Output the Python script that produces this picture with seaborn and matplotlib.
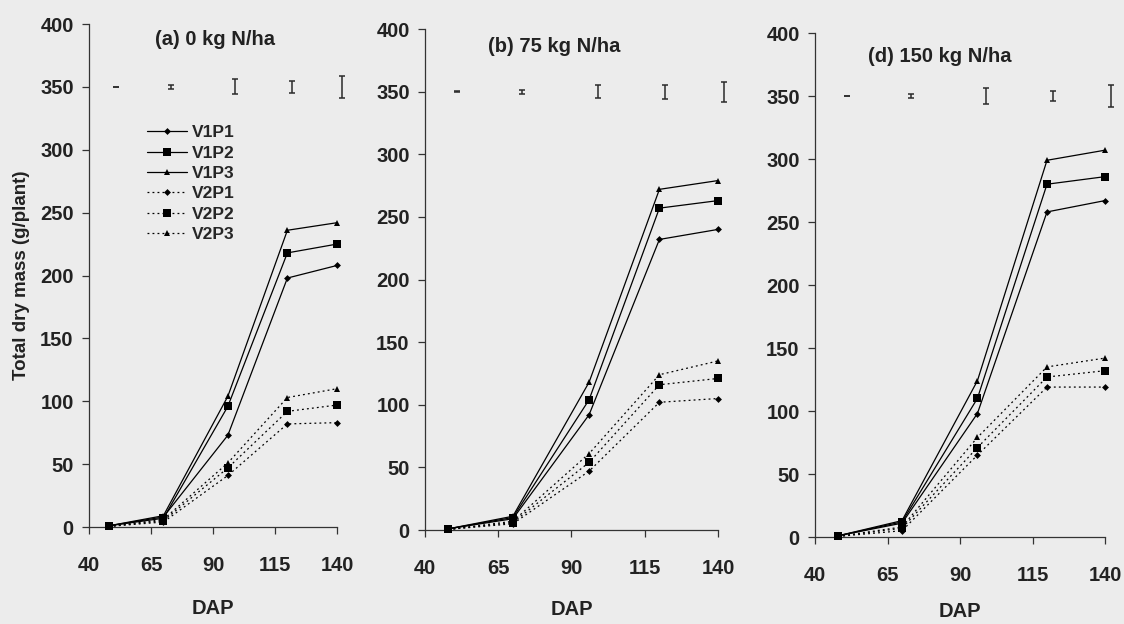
import numpy as np
import pandas as pd
import matplotlib
matplotlib.use("Agg")
import matplotlib.pyplot as plt
import seaborn as sns

# ---------------- data ----------------
dap = [48, 70, 96, 120, 140]
series = ["V1P1", "V1P2", "V1P3", "V2P1", "V2P2", "V2P3"]
panel_titles = ["(a) 0 kg N/ha", "(b) 75 kg N/ha", "(d) 150 kg N/ha"]

# (a) 0 kg N/ha
a_V1P1 = [1, 8, 73, 198, 208]
a_V1P2 = [1, 7, 96, 218, 225]
a_V1P3 = [1, 9, 104, 236, 242]
a_V2P1 = [0.5, 4, 41, 82, 83]
a_V2P2 = [0.5, 5, 47, 92, 97]
a_V2P3 = [0.5, 6, 51, 103, 110]

# (b) 75 kg N/ha
b_V1P1 = [1, 9, 92, 232, 240]
b_V1P2 = [1, 10, 104, 257, 263]
b_V1P3 = [1, 11, 118, 272, 279]
b_V2P1 = [0.5, 5, 47, 102, 105]
b_V2P2 = [0.5, 6, 54, 116, 121]
b_V2P3 = [0.5, 7, 61, 124, 135]

# (d) 150 kg N/ha
d_V1P1 = [1, 11, 98, 258, 267]
d_V1P2 = [1, 12, 110, 280, 286]
d_V1P3 = [1, 13, 124, 299, 307]
d_V2P1 = [0.5, 5, 65, 119, 119]
d_V2P2 = [0.5, 7, 71, 127, 132]
d_V2P3 = [0.5, 8, 79, 135, 142]

# LSD bars drawn at the 350 level
lsd_dap = [51, 73, 99, 122, 142]
lsd_level = 350
lsd_a = [0.4, 3, 12, 10, 17]
lsd_b = [0.4, 3, 10, 11, 16]
lsd_d = [0.4, 3, 12, 8, 17]

x_ticks = [40, 65, 90, 115, 140]
y_ticks = [0, 50, 100, 150, 200, 250, 300, 350, 400]

panel_data = [
    [a_V1P1, a_V1P2, a_V1P3, a_V2P1, a_V2P2, a_V2P3],
    [b_V1P1, b_V1P2, b_V1P3, b_V2P1, b_V2P2, b_V2P3],
    [d_V1P1, d_V1P2, d_V1P3, d_V2P1, d_V2P2, d_V2P3],
]
panel_lsd = [lsd_a, lsd_b, lsd_d]

# ---------------- style ----------------
sns.set_theme(style="ticks")
plt.rcParams["font.family"] = ["Liberation Sans", "DejaVu Sans"]
plt.rcParams["font.weight"] = "bold"

bg = "#ececec"
fig = plt.figure(figsize=(11.24, 6.24), dpi=100, facecolor=bg)

positions = [
    [0.0792, 0.1554, 0.2206, 0.8061],
    [0.3781, 0.1506, 0.2607, 0.8029],
    [0.7251, 0.1394, 0.2580, 0.8077],
]
title_xy = [(0.265, 0.970), (0.215, 0.966), (0.183, 0.954)]
xlabel_pads = [17, 16, 12]

palette = {s: "black" for s in series}
markers = {"V1P1": "D", "V1P2": "s", "V1P3": "^",
           "V2P1": "D", "V2P2": "s", "V2P3": "^"}
dashes = {"V1P1": "", "V1P2": "", "V1P3": "",
          "V2P1": (1.5, 2.5), "V2P2": (1.5, 2.5), "V2P3": (1.5, 2.5)}
msizes = {"V1P1": 3.5, "V1P2": 5.5, "V1P3": 5, "V2P1": 3.5, "V2P2": 5.5, "V2P3": 5}

for i, (pos, title) in enumerate(zip(positions, panel_titles)):
    ax = fig.add_axes(pos)
    ax.set_facecolor(bg)
    rows = []
    for s, vals in zip(series, panel_data[i]):
        for d, v in zip(dap, vals):
            rows.append({"DAP": d, "mass": v, "series": s})
    df = pd.DataFrame(rows)
    sns.lineplot(data=df, x="DAP", y="mass", hue="series", style="series",
                 palette=palette, markers=markers, dashes=dashes,
                 linewidth=0.9, markersize=5, markeredgewidth=0,
                 legend=(i == 0), ax=ax, clip_on=False, zorder=3)
    for line, s in zip(ax.get_lines()[:len(series)], series):
        line.set_markersize(msizes[s])

    eb = ax.errorbar(lsd_dap, [lsd_level] * len(lsd_dap),
                     yerr=[v / 2 for v in panel_lsd[i]],
                     fmt="none", ecolor="#2a2a2a", elinewidth=1.1, capsize=2,
                     capthick=1.1)
    for art in eb.get_children():
        art.set_clip_on(False)

    ax.set_xlim(40, 140)
    ax.set_ylim(0, 400)
    ax.set_xticks(x_ticks)
    ax.set_yticks(y_ticks)
    ax.tick_params(axis="both", labelsize=14.5, width=0.9, length=5,
                   color="#333333", labelcolor="#222222")
    ax.tick_params(axis="x", pad=16)
    ax.tick_params(axis="y", pad=6)
    for lab in ax.get_xticklabels() + ax.get_yticklabels():
        lab.set_fontweight("bold")
    sns.despine(ax=ax)
    for sp in ("left", "bottom"):
        ax.spines[sp].set_linewidth(0.9)
        ax.spines[sp].set_color("#333333")

    ax.set_xlabel("DAP", fontsize=14.5, fontweight="bold",
                  labelpad=xlabel_pads[i], color="#222222")
    if i == 0:
        ax.set_ylabel("Total dry mass (g/plant)", fontsize=13.5,
                      fontweight="bold", labelpad=7, color="#222222")
    else:
        ax.set_ylabel("")

    tx, ty = title_xy[i]
    ax.text(tx, ty, title, transform=ax.transAxes, fontsize=14.5,
            fontweight="bold", ha="left", va="center", color="#222222")

    if i == 0:
        handles, labels = ax.get_legend_handles_labels()
        leg = ax.get_legend()
        if leg is not None:
            leg.remove()
        for h, l in zip(handles, labels):
            if l in msizes:
                h.set_markersize(msizes[l])
        ax.legend(handles, labels, loc="upper left",
                  bbox_to_anchor=(0.17, 0.83), frameon=False,
                  handlelength=2.3, handletextpad=0.3, labelspacing=0.3,
                  prop={"size": 12.5, "weight": "bold"})

fig.savefig("out.png", dpi=100, facecolor=bg)
